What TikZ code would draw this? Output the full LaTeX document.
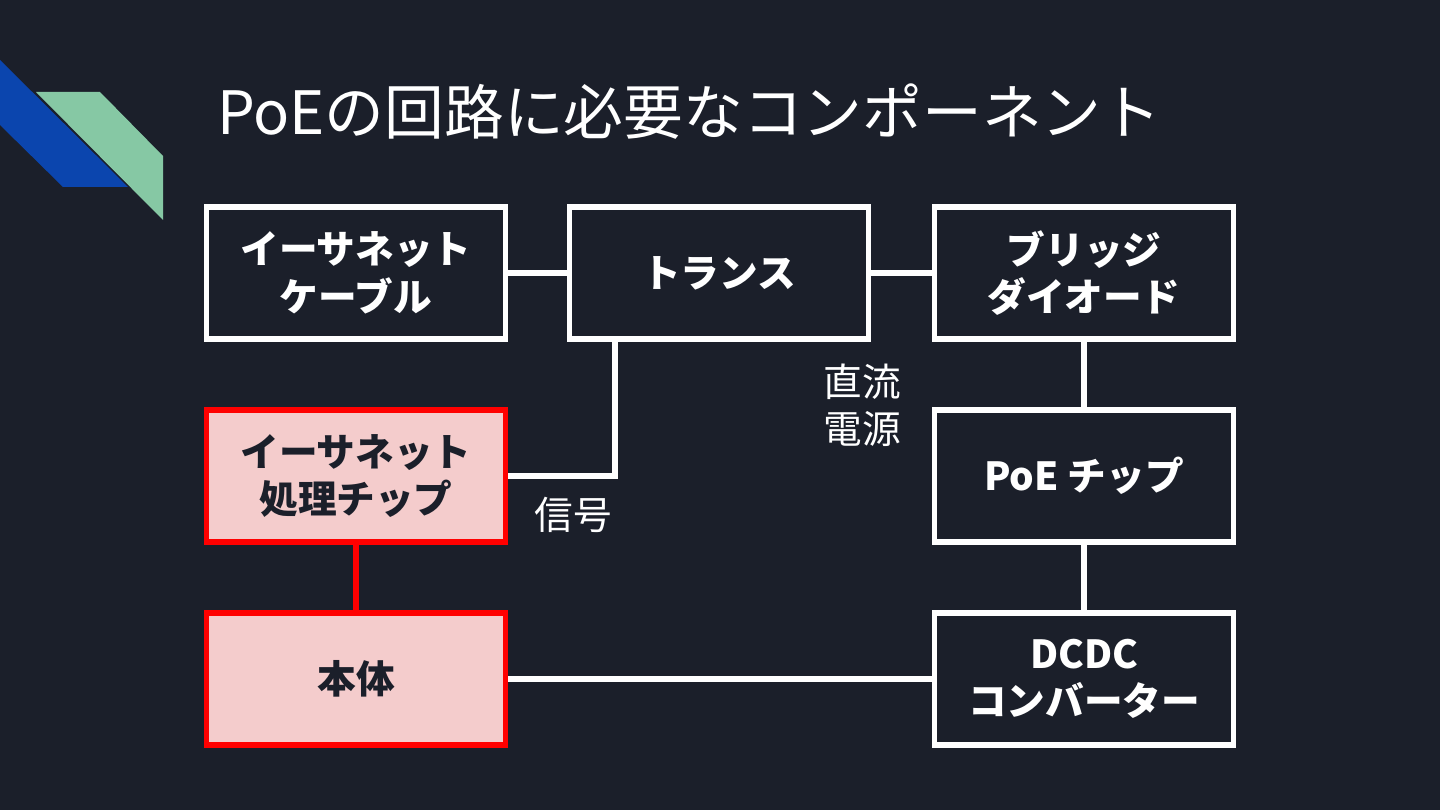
\documentclass[tikz,border=0pt]{standalone}
\usepackage{fontspec}
\setmainfont{Noto Sans CJK JP}
\usetikzlibrary{positioning}
\definecolor{slidebg}{HTML}{1B1F2A}
\definecolor{ribbonblue}{HTML}{0B45AE}
\definecolor{ribbongreen}{HTML}{86C8A4}
\definecolor{hostfill}{HTML}{F4CCCC}
\definecolor{hostred}{HTML}{FF0000}
\tikzset{
    part/.style={draw=white, line width=3.3pt, fill=slidebg, text=white,
        minimum width=5.98cm, minimum height=2.64cm, align=center,
        font=\fontsize{22}{27}\selectfont\bfseries},
    hostpart/.style={part, draw=hostred, fill=hostfill, text=slidebg},
    link/.style={draw=white, line width=3.3pt},
    hostlink/.style={draw=hostred, line width=3.3pt},
    note/.style={text=white, align=center, font=\fontsize{22}{27}\selectfont}
}

\begin{document}
\begin{tikzpicture}
    % background
    \fill[slidebg] (0,0) rectangle (28.8,-16.2);
    \useasboundingbox (0,0) rectangle (28.8,-16.2);
    % ribbons
    \fill[ribbonblue] (0,-1.2) -- (2.56,-3.74) -- (1.26,-3.74) -- (0,-2.5) -- cycle;
    \fill[ribbongreen] (0.72,-1.84) -- (2.0,-1.84) -- (3.26,-3.12) -- (3.26,-4.4) -- cycle;
    % title
    \node[anchor=west, text=white, font=\fontsize{34}{40}\selectfont] (title) at (4.22,-2.24)
        {PoEの回路に必要なコンポーネント};
    % parts
    \node[part] (cable) at (7.12,-5.46) {イーサネット\\ケーブル};
    \node[part] (trans) at (14.38,-5.46) {トランス};
    \node[part] (bridge) at (21.68,-5.46) {ブリッジ\\ダイオード};
    \node[hostpart] (phy) at (7.12,-9.52) {イーサネット\\処理チップ};
    \node[part] (poechip) at (21.68,-9.52) {PoE チップ};
    \node[hostpart] (body) at (7.12,-13.58) {本体};
    \node[part] (dcdc) at (21.68,-13.58) {DCDC\\コンバーター};
    % links
    \draw[link] (cable) -- (trans);
    \draw[link] (trans) -- (bridge);
    \draw[link] (bridge) -- (poechip);
    \draw[link] (poechip) -- (dcdc);
    \draw[link] (body) -- (dcdc);
    \draw[link] (phy.east) -| ([xshift=-2.08cm]trans.south);
    \draw[hostlink] (phy) -- (body);
    % labels
    \node[note] (dcnote) at (17.24,-8.1) {直流\\電源};
    \node[note] (signote) at (11.46,-10.3) {信号};
\end{tikzpicture}
\end{document}
